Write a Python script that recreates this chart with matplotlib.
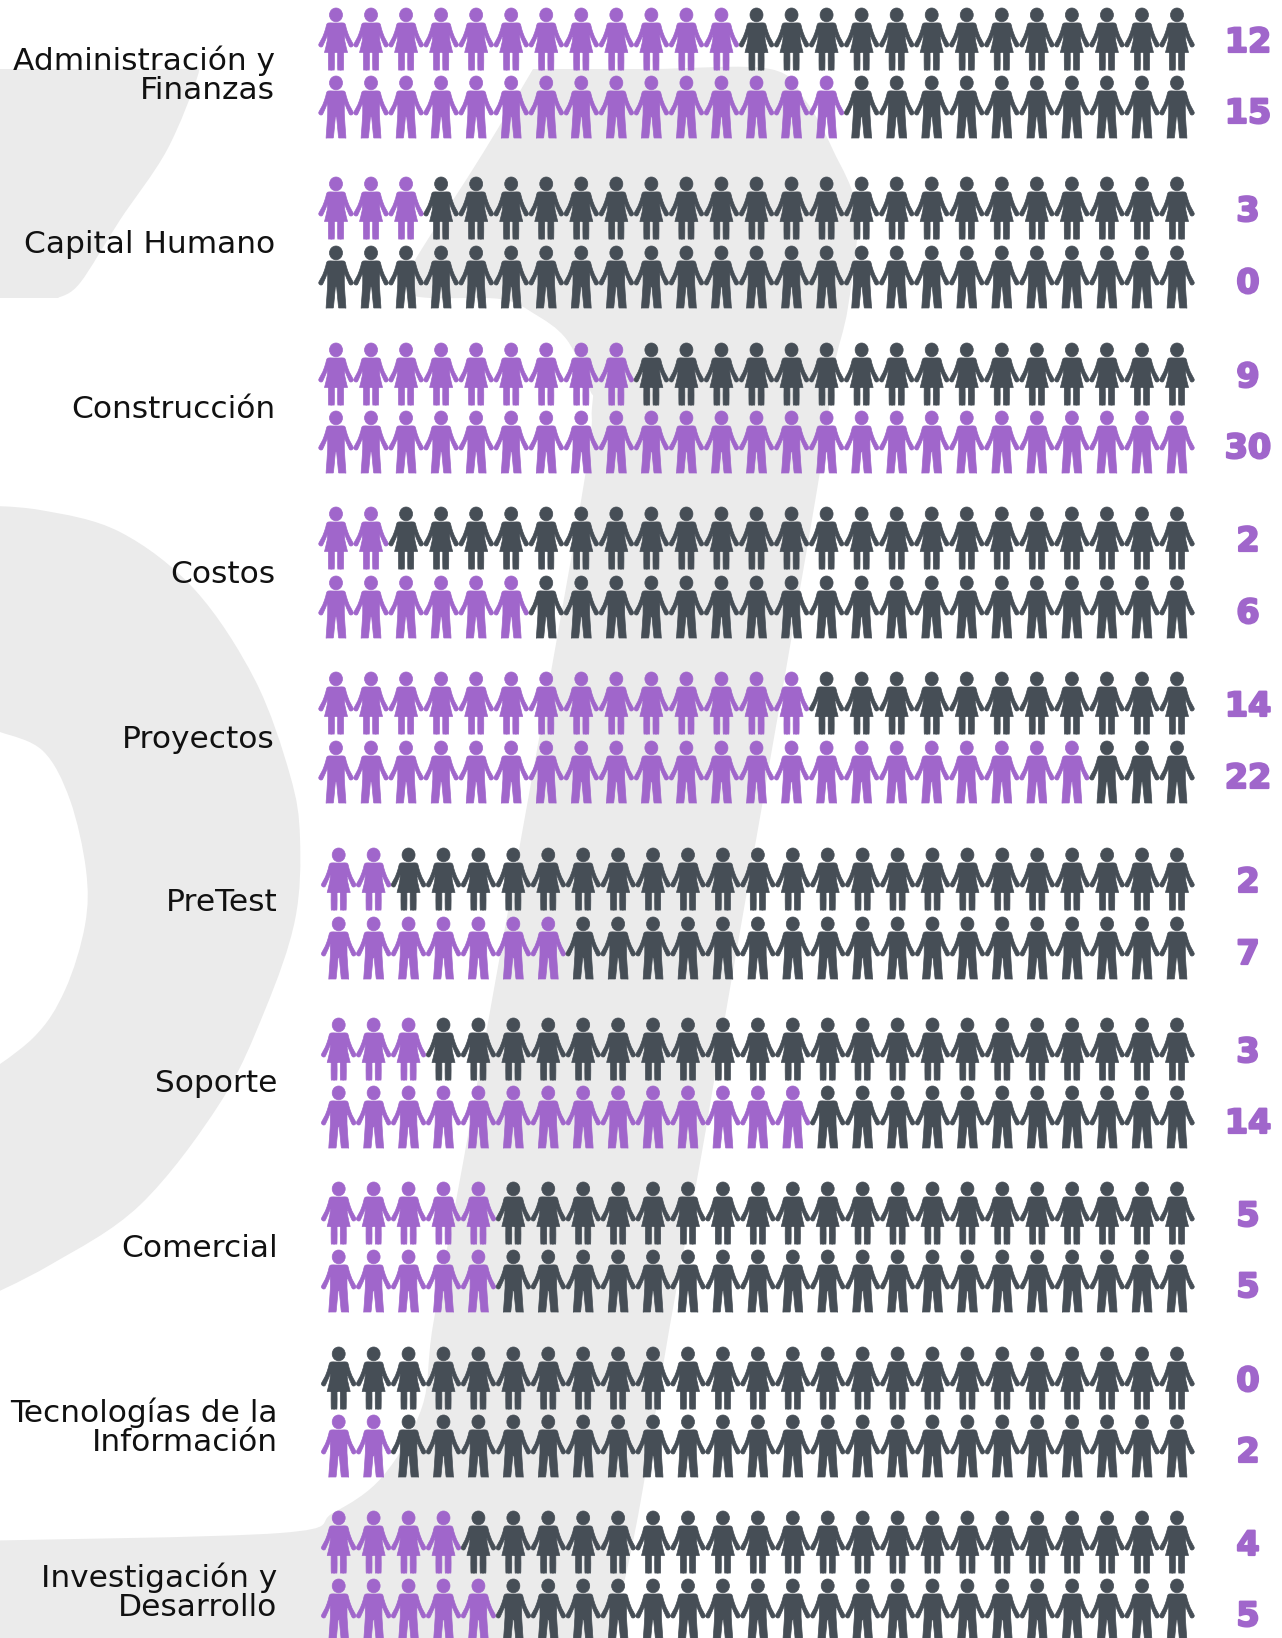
import numpy as np
import matplotlib
matplotlib.use("Agg")
import matplotlib.pyplot as plt
import matplotlib.patheffects as pe
from matplotlib.patches import PathPatch
from matplotlib.path import Path
from matplotlib.transforms import Affine2D

# Data
labels = [
    "Administración y\nFinanzas", "Capital Humano", "Construcción", "Costos",
    "Proyectos", "PreTest", "Soporte", "Comercial",
    "Tecnologías de la\nInformación", "Investigación y\nDesarrollo",
]
women = [12, 3, 9, 2, 14, 2, 3, 5, 0, 4]
men = [15, 0, 30, 6, 22, 7, 14, 5, 2, 5]
total = 25

# Layout, in pixels of the 1282x1638 picture
women_top = [8, 177, 343, 507, 672, 848, 1018, 1182, 1347, 1511]
men_top = [76, 246, 411, 576, 741, 917, 1086, 1250, 1415, 1579]
first_x = [336, 336, 336, 336, 336, 338.7, 338.7, 338.7, 338.7, 338.7]
last_x = 1177
label_right = [275, 275, 275, 275, 275, 277.5, 277.5, 277.5, 277.5, 277.5]
label_base = [70, 253, 418, 583, 748, 911, 1092, 1257, 1422, 1587]
line_step = 29

PURPLE = "#A066CB"
DARK = "#464E56"
GREY = "#EBEBEB"
PX = 0.72  # one pixel in points at dpi 100


def catmull(points):
    # closed curve through the points; a doubled point gives a corner
    pts = np.array(points, dtype=float)
    n = len(pts)
    verts = [pts[0]]
    codes = [Path.MOVETO]
    for i in range(n):
        p0, p1, p2, p3 = pts[(i - 1) % n], pts[i], pts[(i + 1) % n], pts[(i + 2) % n]
        if np.allclose(p1, p2):
            continue
        verts += [p1 + (p2 - p0) / 6, p2 - (p3 - p1) / 6, p2]
        codes += [Path.CURVE4] * 3
    verts.append(pts[0])
    codes.append(Path.CLOSEPOLY)
    return Path(verts, codes)


def flip(half):
    # left side outline mirrored to a whole figure, d counted down from the head top
    pts = half + [(-x, d) for x, d in reversed(half)]
    return [(x, 31 - d) for x, d in pts]


arm = [(-3, 15), (-7.5, 15), (-9.3, 16.5), (-10.3, 20.5), (-13.3, 29), (-17, 35.8), (-16.8, 38),
       (-15, 39), (-13, 37.5), (-8.5, 27), (-8.5, 27)]
man_half = arm + [(-8.3, 38), (-9.8, 60), (-9.6, 62), (-9.6, 62), (-3.2, 62), (-3.2, 62),
                  (-2.4, 60), (-0.7, 42), (0, 40.5)]
woman_half = arm + [(-8.8, 33), (-11.5, 44.5), (-11.5, 44.5), (0, 44.5)]


def leg(x0, x1, top=44):
    pts = [(x0, top), (x0, top), (x0, 60.5), (x0 + 1.2, 62), (x1 - 1.2, 62), (x1, 60.5), (x1, top), (x1, top)]
    return catmull([(x, 31 - d) for x, d in pts])


head = Path.unit_circle().transformed(Affine2D().scale(6.5, 6.9).translate(0, 31 - 6.9))
man_marker = Path.make_compound_path(head, catmull(flip(man_half)))
woman_marker = Path.make_compound_path(head, catmull(flip(woman_half)), leg(-7.5, -1.7), leg(1.7, 7.5))


def marker_size(marker):
    # matplotlib scales a custom marker by its largest vertex, so undo that here
    return (2 * np.abs(marker.vertices).max() * PX) ** 2


# Grey logo behind the chart
wedge = [(-30, 69), (-30, 69), (192, 69), (192, 69), (198, 75), (167, 150), (120, 220), (80, 283),
         (58, 298), (58, 298), (-30, 298), (-30, 298)]
stripe = [(533, 69), (533, 69), (650, 69), (770, 69), (805, 100), (833, 150), (857, 213), (848, 307),
          (833, 373), (817, 490), (728, 1000), (700, 1163), (670, 1325), (643, 1488), (627, 1570),
          (605, 1660), (605, 1660), (-30, 1660), (-30, 1660), (-30, 1541), (-30, 1541),
          (280, 1533), (333, 1513), (383, 1476), (422, 1407),
          (433, 1325), (463, 1163), (492, 1000), (580, 507), (592, 407), (590, 390), (567, 340),
          (533, 313), (500, 299), (430, 298), (412, 292), (413, 267), (423, 247), (483, 153)]
ring = [(-30, 505), (-30, 505), (40, 510), (120, 532), (195, 590), (255, 680), (290, 775), (300, 838),
        (295, 920), (265, 1010), (220, 1103), (140, 1205), (50, 1265), (-30, 1305), (-30, 1305),
        (-30, 1085), (-30, 1085), (33, 1038), (65, 990), (85, 925), (86, 870), (70, 800), (43, 751), (0, 732),
        (-30, 725), (-30, 725)]

fig = plt.figure(figsize=(12.82, 16.38), dpi=100, facecolor="white")
ax = fig.add_axes([0, 0, 1, 1])
ax.set_xlim(0, 1282)
ax.set_ylim(1638, 0)
ax.axis("off")

for shape in [wedge, stripe, ring]:
    ax.add_patch(PathPatch(catmull(shape), fc=GREY, ec="none", zorder=0))

# Pictogram rows
for i in range(len(labels)):
    xs = np.linspace(first_x[i], last_x, total)
    for top, count, marker in [(women_top[i], women[i], woman_marker), (men_top[i], men[i], man_marker)]:
        colors = [PURPLE if n < count else DARK for n in range(total)]
        ax.scatter(xs, np.full(total, top + 31), marker=marker, s=marker_size(marker),
                   c=colors, edgecolors="face", linewidths=0.5, zorder=2)

    lines = labels[i].split("\n")
    for k, line in enumerate(lines):
        ax.text(label_right[i], label_base[i] + k * line_step, line, ha="right", va="baseline",
                fontsize=22.5, color="#111111", family="DejaVu Sans", zorder=3)

    for top, value, off in [(women_top[i], women[i], 31), (men_top[i], men[i], 34)]:
        ax.text(1248, top + off, str(value), ha="center", va="center_baseline", fontsize=24,
                fontweight="bold", color=PURPLE, family="DejaVu Sans", zorder=3,
                path_effects=[pe.withStroke(linewidth=1.6, foreground=PURPLE)])

fig.savefig("out.png", dpi=100)
